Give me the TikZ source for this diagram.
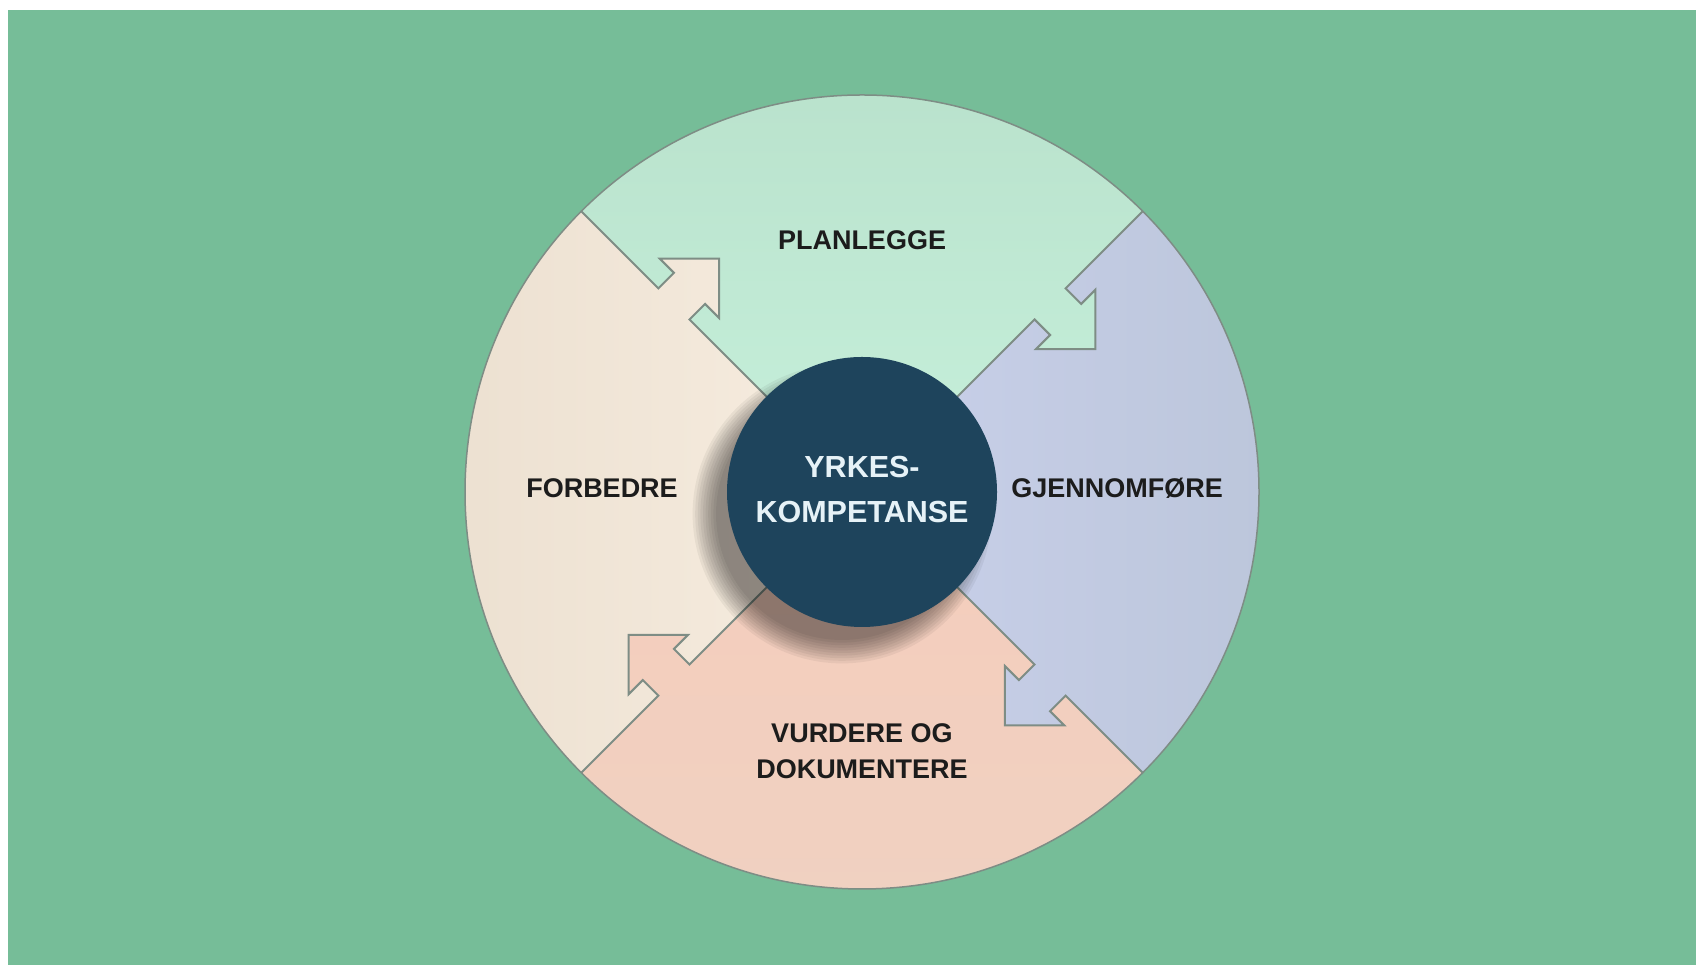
\documentclass[tikz,border=0pt]{standalone}
\usepackage{fontspec}
\setmainfont{Liberation Sans}
\usetikzlibrary{calc}
\definecolor{bg}{HTML}{76BD98}
\definecolor{outl}{HTML}{7E8D85}
\definecolor{hub}{HTML}{1E445C}
\definecolor{hubtext}{HTML}{E6F2F7}
\definecolor{labeltext}{HTML}{1C1C1C}
\definecolor{topA}{HTML}{B2DAC4}
\definecolor{topB}{HTML}{C6F0DB}
\definecolor{leftA}{HTML}{E6D9C8}
\definecolor{leftB}{HTML}{F7EDE0}
\definecolor{botA}{HTML}{F5CDBC}
\definecolor{botB}{HTML}{EDD3C4}
\definecolor{rightA}{HTML}{C9D0EA}
\definecolor{rightB}{HTML}{B4C0D2}
\begin{document}
\begin{tikzpicture}[x=1pt,y=1pt,
  outline/.style={draw=outl, line width=2pt, line join=miter},
  lbl/.style={font=\fontsize{27}{36}\selectfont\bfseries, text=labeltext, align=center, inner sep=0pt},
  hublbl/.style={font=\fontsize{30.5}{45}\selectfont\bfseries, text=hubtext, align=center, inner sep=0pt}]
\useasboundingbox (0,0) rectangle (1696,965);
\fill[white] (0,0) rectangle (1696,965);
\fill[bg] (8,0) rectangle (1696,955);
\coordinate (C) at (862,473);
\def\R{397}
\def\r{135}
% divider polylines with arrow notches
\foreach \a/\n in {45/ne,135/nw,225/sw,315/se}{
  \coordinate (\n0) at (C);
  \coordinate (\n1) at ($(C)+(\a:244)$);
  \coordinate (\n2) at ($(C)+(\a:244)+(\a-90:22)$);
  \coordinate (\n3) at ($(C)+(\a:224)+(\a-90:22)$);
  \coordinate (\n4) at ($(C)+(\a:266)+(\a-90:64)$);
  \coordinate (\n5) at ($(C)+(\a:308)+(\a-90:22)$);
  \coordinate (\n6) at ($(C)+(\a:288)+(\a-90:22)$);
  \coordinate (\n7) at ($(C)+(\a:288)$);
  \coordinate (\n8) at ($(C)+(\a:470)$);
}
\coordinate (fN) at ($(C)+(90:650)$);
\coordinate (fW) at ($(C)+(180:650)$);
\coordinate (fS) at ($(C)+(270:650)$);
\coordinate (fE) at ($(C)+(0:650)$);
\begin{scope}
  \clip (C) circle (\R);
  % top: PLANLEGGE
  \shade[top color=topA, bottom color=topB]
    (ne0)--(ne1)--(ne2)--(ne3)--(ne4)--(ne5)--(ne6)--(ne7)--(ne8)--(fN)
    --(nw8)--(nw7)--(nw6)--(nw5)--(nw4)--(nw3)--(nw2)--(nw1)--cycle;
  % left: FORBEDRE
  \shade[left color=leftA, right color=leftB]
    (nw0)--(nw1)--(nw2)--(nw3)--(nw4)--(nw5)--(nw6)--(nw7)--(nw8)--(fW)
    --(sw8)--(sw7)--(sw6)--(sw5)--(sw4)--(sw3)--(sw2)--(sw1)--cycle;
  % bottom: VURDERE OG DOKUMENTERE
  \shade[top color=botA, bottom color=botB]
    (sw0)--(sw1)--(sw2)--(sw3)--(sw4)--(sw5)--(sw6)--(sw7)--(sw8)--(fS)
    --(se8)--(se7)--(se6)--(se5)--(se4)--(se3)--(se2)--(se1)--cycle;
  % right: GJENNOMFORE
  \shade[left color=rightA, right color=rightB]
    (se0)--(se1)--(se2)--(se3)--(se4)--(se5)--(se6)--(se7)--(se8)--(fE)
    --(ne8)--(ne7)--(ne6)--(ne5)--(ne4)--(ne3)--(ne2)--(ne1)--cycle;
  % divider outlines
  \foreach \n in {ne,nw,sw,se}{
    \draw[outline] (\n0)--(\n1)--(\n2)--(\n3)--(\n4)--(\n5)--(\n6)--(\n7)--(\n8);
  }
\end{scope}
\draw[outl, line width=1.5pt] (C) circle (\R);
% soft shadow of the hub
\foreach \i in {0,...,9}{
  \fill[black, opacity=0.05] ($(C)+(-20,-22)$) circle ({126+\i*2.6});
}
\fill[hub] (C) circle (\r);
% labels
\node[lbl] (plan) at (862,725) {PLANLEGGE};
\node[lbl] (forb) at (602,477) {FORBEDRE};
\node[lbl] (gjen) at (1117,477) {GJENNOMFØRE};
\node[lbl] (vurd) at (862,214) {VURDERE OG\\DOKUMENTERE};
\node[hublbl] (hubl) at (862,475) {YRKES-\\KOMPETANSE};
\end{tikzpicture}
\end{document}
